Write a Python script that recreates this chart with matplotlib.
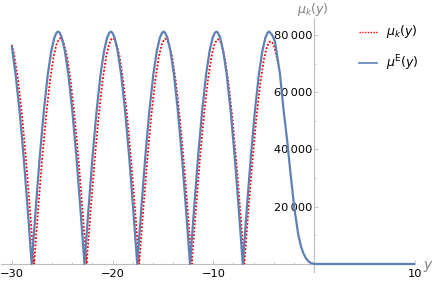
import matplotlib
matplotlib.use('Agg')
import matplotlib.pyplot as plt
from matplotlib.lines import Line2D
from matplotlib.ticker import FixedLocator, MultipleLocator

# mu^E(y) (blue solid)
blue_x = [-30.00, -29.85, -29.63, -29.23, -28.83, -28.43,
          -28.03, -27.63, -27.23, -26.83, -26.43, -26.08, -25.78, -25.56, -25.41,
          -25.26, -25.04, -24.74, -24.39, -23.99, -23.59, -23.19,
          -22.79, -22.39, -21.99, -21.59, -21.19, -20.84, -20.54, -20.32, -20.17,
          -20.02, -19.80, -19.50, -19.15, -18.75, -18.35, -17.95,
          -17.55, -17.15, -16.75, -16.35, -15.95, -15.60, -15.30, -15.08, -14.93,
          -14.78, -14.56, -14.26, -13.91, -13.51, -13.11, -12.71,
          -12.31, -11.91, -11.51, -11.11, -10.71, -10.36, -10.06, -9.84, -9.69,
          -9.54, -9.32, -9.02, -8.67, -8.27, -7.87, -7.47,
          -7.07, -6.67, -6.27, -5.87, -5.47, -5.12, -4.82, -4.60, -4.45,
          -4.15, -3.87, -3.60, -3.38, -3.05, -2.65, -2.32, -1.95, -1.56,
          -1.30, -1.06, -0.80, -0.57, -0.30, 0.10, 10.00]
blue_y = [76000, 72000, 66300, 53300, 37400, 19200,
          0, 19200, 37400, 53300, 66300, 74500, 79100, 80800, 81200,
          80800, 79100, 74500, 66300, 53300, 37400, 19200,
          0, 19200, 37400, 53300, 66300, 74500, 79100, 80800, 81200,
          80800, 79100, 74500, 66300, 53300, 37400, 19200,
          0, 19200, 37400, 53300, 66300, 74500, 79100, 80800, 81200,
          80800, 79100, 74500, 66300, 53300, 37400, 19200,
          0, 19200, 37400, 53300, 66300, 74500, 79100, 80800, 81200,
          80800, 79100, 74500, 66300, 53300, 37400, 19200,
          0, 19200, 37400, 53300, 66300, 74500, 79100, 80800, 81200,
          80000, 77700, 71500, 66500, 54800, 42700, 31300, 19600, 10200,
          6300, 3800, 2000, 1000, 300, 0, 0]

# mu_k(y) (red dotted)
red_x = [-30.00, -29.80, -29.40, -29.00, -28.60, -28.20,
         -27.80, -27.40, -27.00, -26.60, -26.20, -25.86, -25.56, -25.34, -25.19,
         -25.04, -24.82, -24.52, -24.18, -23.78, -23.38, -22.98,
         -22.58, -22.18, -21.78, -21.38, -20.98, -20.64, -20.34, -20.12, -19.97,
         -19.82, -19.60, -19.30, -18.96, -18.56, -18.16, -17.76,
         -17.36, -16.96, -16.56, -16.16, -15.76, -15.42, -15.12, -14.90, -14.75,
         -14.60, -14.38, -14.08, -13.74, -13.34, -12.94, -12.54,
         -12.14, -11.74, -11.34, -10.94, -10.54, -10.20, -9.90, -9.68, -9.53,
         -9.38, -9.16, -8.86, -8.52, -8.12, -7.72, -7.32,
         -6.92, -6.52, -6.12, -5.72, -5.32, -4.98, -4.68, -4.46, -4.31,
         -4.16, -3.94, -3.70, -3.55]
red_y = [76600, 73600, 64800, 52200, 36600, 18900,
         0, 18700, 36300, 51800, 64400, 72400, 76800, 78500, 78900,
         78500, 76800, 72400, 64400, 51800, 36300, 18700,
         0, 18700, 36300, 51800, 64400, 72400, 76800, 78500, 78900,
         78500, 76800, 72400, 64400, 51800, 36300, 18700,
         0, 18650, 36200, 51600, 64200, 72200, 76650, 78300, 78700,
         78300, 76650, 72200, 64200, 51600, 36200, 18650,
         0, 18600, 36100, 51500, 64100, 72100, 76500, 78100, 78500,
         78100, 76500, 72100, 64100, 51500, 36100, 18600,
         0, 18400, 35800, 51000, 63500, 71400, 75800, 77400, 77800,
         77400, 75800, 72300, 69800]

x_major = [-30, -20, -10, 0, 10]
x_labels = ['\u221230', '\u221220', '\u221210', '', '10']
y_major = [0, 20000, 40000, 60000, 80000]
y_labels = ['', '20\u2009000', '40\u2009000', '60\u2009000', '80\u2009000']

blue = (0.368417, 0.506779, 0.709798)
red = (1.0, 0.0, 0.0)
axis_gray = '#bdbdbd'
label_gray = '#7f7f7f'

fig = plt.figure(figsize=(4.36, 2.82), dpi=100)
ax = fig.add_axes([0.0018, 0.0355, 0.9493, 0.9007])

ax.plot(red_x, red_y, color=red, lw=1.3, linestyle=(0, (1, 1)), zorder=2)
ax.plot(blue_x, blue_y, color=blue, lw=1.6, zorder=3)

ax.set_xlim(-31.1, 10.0)
ax.set_ylim(-2800, 85940)

# Mathematica-style axes crossing at the origin
for side in ['top', 'right']:
    ax.spines[side].set_visible(False)
ax.spines['left'].set_position(('data', 0))
ax.spines['bottom'].set_position(('data', 0))
for side in ['left', 'bottom']:
    ax.spines[side].set_color(axis_gray)
    ax.spines[side].set_linewidth(0.8)
ax.patch.set_alpha(0)

ax.xaxis.set_major_locator(FixedLocator(x_major))
ax.set_xticklabels(x_labels)
ax.xaxis.set_minor_locator(MultipleLocator(2))
ax.yaxis.set_major_locator(FixedLocator(y_major))
ax.set_yticklabels(y_labels)
ax.yaxis.set_minor_locator(MultipleLocator(10000))

ax.tick_params(which='both', direction='in', color=axis_gray, width=0.6)
ax.tick_params(which='major', length=3)
ax.tick_params(which='minor', length=1.6)
ax.tick_params(axis='x', which='major', pad=3.5, labelsize=8.2)
ax.tick_params(axis='y', which='major', pad=1.2, labelsize=8.2)

# axis labels
fig.text(313 / 436, 1 - 10 / 282, r'$\mu_k(y)$', color=label_gray, fontsize=9,
         ha='center', va='center')
fig.text(423 / 436, 1 - 266 / 282, r'$y$', color=label_gray, fontsize=10,
         ha='left', va='center')

# legend
fig.add_artist(Line2D([359 / 436, 377 / 436], [1 - 32 / 282, 1 - 32 / 282],
                      transform=fig.transFigure, color=red, lw=1.0,
                      linestyle=(0, (1, 1))))
fig.add_artist(Line2D([359 / 436, 377 / 436], [1 - 63 / 282, 1 - 63 / 282],
                      transform=fig.transFigure, color=blue, lw=1.2))
fig.text(386 / 436, 1 - 32 / 282, r'$\mu_k(y)$', fontsize=9, ha='left', va='center')
fig.text(386 / 436, 1 - 63 / 282, r'$\mu^{\mathrm{E}}(y)$', fontsize=9, ha='left', va='center')

fig.savefig('out.png', dpi=100)
